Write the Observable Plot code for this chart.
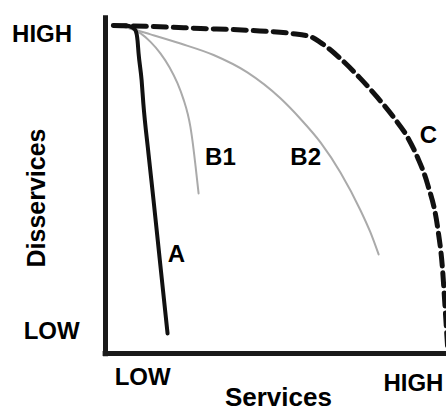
<!DOCTYPE html>
<html>
<head>
<meta charset="utf-8">
<script src="https://cdn.jsdelivr.net/npm/d3@7"></script>
<script src="https://cdn.jsdelivr.net/npm/@observablehq/plot@0.6"></script>
<style>
  html, body { margin: 0; padding: 0; background: #fff; }
  svg { overflow: visible; }
</style>
</head>
<body>
<div id="chart"></div>
<script>
// Curve A (thick solid), B1/B2 (thin grey), C (thick dashed); x = services, y = disservices (0–100)
const curveA = [[2.3,100],[5.9,100],[7.9,99.4],[8.8,98.5],[9.4,95.4],[9.7,91.5],[10.6,83.2],[11.1,76.2],[12.6,61.0],[14.1,46.6],[16.1,26.8],[18.2,6.1]];
const curveB1 = [[2.3,100],[5.0,99.7],[7.3,99.1],[10.3,97.6],[13.2,95.0],[16.1,91.5],[18.8,87.2],[21.1,82.4],[22.9,77.4],[24.1,73.1],[24.9,69.1],[25.5,64.9],[26.4,57.2],[27.3,48.8]];
const curveB2 = [[2.3,100],[7.3,99.1],[13.2,97.3],[22.0,94.5],[31.7,91.0],[41.6,85.7],[51.3,77.8],[57.2,71.5],[63.1,64.3],[68.9,55.2],[74.8,43.6],[77.7,36.9],[80.1,30.2]];
const curveC = [[2.3,100],[13.2,99.7],[27.9,99.1],[42.5,98.5],[54.3,97.6],[60.1,96.6],[63.1,94.8],[68.9,89.9],[74.8,83.8],[79.8,78.0],[84.5,72.0],[88.6,65.9],[91.5,59.8],[94.4,51.8],[97.4,38.4],[98.8,26.2],[99.7,12.2],[100.3,2.4]];

const curveNames = ["A", "B1", "B2", "C"];
const curveLabelX = [20.8, 33.7, 58.7, 94.7];
const curveLabelY = [30.2, 59.8, 59.8, 66.5];

const yTickLabels = ["HIGH", "LOW"];
const yTickValues = [97.4, 6.7];
const yTickX = [-18.6, -15.8];
const xTickLabels = ["LOW", "HIGH"];
const xTickValues = [10.9, 90.3];
const xTickY = [-7.2, -9.0];

const xTitle = "Services";
const yTitle = "Disservices";

const toPts = (arr) => arr.map(([x, y]) => ({x, y}));
const font = {fontFamily: "Liberation Sans, Arial, sans-serif", fontWeight: "bold", fill: "#000"};

const curveLabels = curveNames.map((t, i) => ({t, x: curveLabelX[i], y: curveLabelY[i]}));
const yTicks = yTickLabels.map((t, i) => ({t, y: yTickValues[i], x: yTickX[i]}));
const xTicks = xTickLabels.map((t, i) => ({t, x: xTickValues[i], y: xTickY[i]}));

const chart = Plot.plot({
  width: 446,
  height: 412,
  marginLeft: 105,
  marginRight: 0,
  marginTop: 25,
  marginBottom: 59,
  x: {domain: [0, 100], axis: null},
  y: {domain: [0, 100], axis: null},
  style: {overflow: "visible", background: "#fff"},
  marks: [
    Plot.line(toPts(curveB1), {x: "x", y: "y", stroke: "#aaaaaa", strokeWidth: 2, curve: "monotone-x"}),
    Plot.line(toPts(curveB2), {x: "x", y: "y", stroke: "#aaaaaa", strokeWidth: 2, curve: "monotone-x"}),
    Plot.line(toPts(curveA), {x: "x", y: "y", stroke: "#111", strokeWidth: 4, curve: "monotone-x"}),
    Plot.line(toPts(curveC), {x: "x", y: "y", stroke: "#111", strokeWidth: 5, strokeDasharray: "13,7", curve: "monotone-x"}),
    Plot.ruleX([0], {y1: -1, y2: 103, stroke: "#1a1a1a", strokeWidth: 5}),
    Plot.ruleY([0], {x1: -0.7, x2: 100.5, stroke: "#1a1a1a", strokeWidth: 5}),
    Plot.text(curveLabels, {x: "x", y: "y", text: "t", fontSize: 24, ...font}),
    Plot.text(yTicks, {x: "x", y: "y", text: "t", fontSize: 24, ...font}),
    Plot.text(xTicks, {x: "x", y: "y", text: "t", fontSize: 24, ...font}),
    Plot.text([xTitle], {x: 50.7, y: -13.4, text: d => d, fontSize: 26, ...font}),
    Plot.text([yTitle], {x: -20.2, y: 47.4, text: d => d, fontSize: 25, rotate: -90, ...font})
  ]
});
document.getElementById("chart").appendChild(chart);
</script>
</body>
</html>
